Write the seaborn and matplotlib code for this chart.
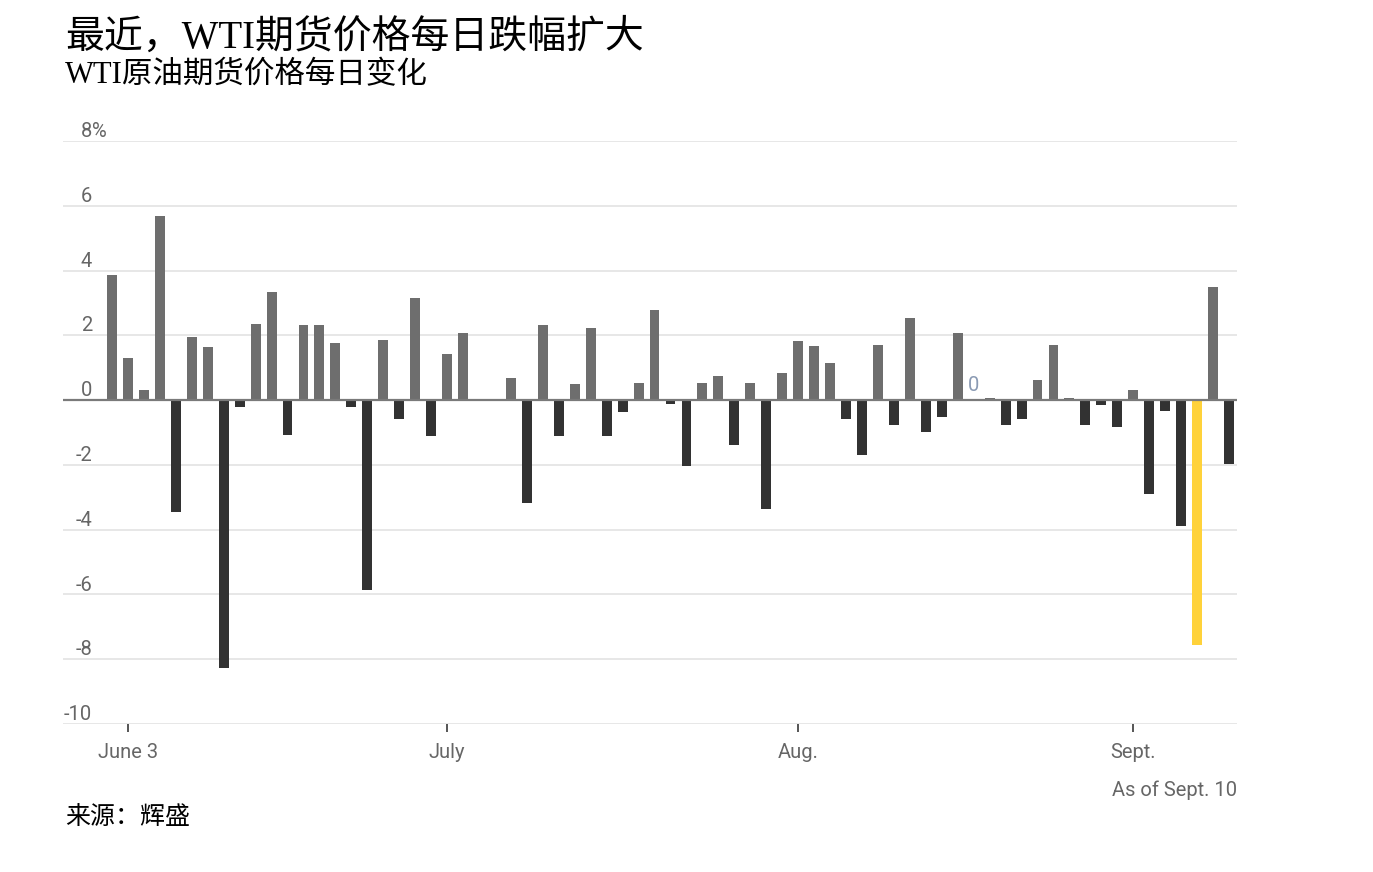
import matplotlib
matplotlib.use("Agg")
import matplotlib.pyplot as plt
import matplotlib.transforms as mtransforms
import seaborn as sns
import pandas as pd
import numpy as np

# ---------------- data ----------------
changes = [
    3.85, 1.30, 0.31, 5.69, -3.44, 1.96, 1.65, -8.28, -0.22, 2.36,
    3.33, -1.09, 2.31, 2.31, 1.76, -0.22, -5.87, 1.85, -0.59, 3.14,
    -1.12, 1.41, 2.07, -0.04, 0.0, 0.69, -3.19, 2.33, -1.12, 0.49,
    2.22, -1.12, -0.37, 0.54, 2.79, -0.11, -2.03, 0.54, 0.74, -1.38,
    0.54, -3.37, 0.85, 1.82, 1.66, 1.14, -0.58, -1.71, 1.71, -0.78,
    2.54, -0.99, -0.52, 2.07, 0.0, 0.06, -0.78, -0.58, 0.63, 1.71,
    0.06, -0.78, -0.16, -0.84, 0.32, -2.90, -0.33, -3.88, -7.57, 3.49,
    -1.96,
]
highlight_day = 68           # the big drop shown in yellow
zero_label_day = 54          # flat day annotated with "0"
month_labels = ["June 3", "July", "Aug.", "Sept."]
month_days = [1, 21, 43, 64]
y_ticks = [8, 6, 4, 2, 0, -2, -4, -6, -8, -10]

title = "最近，WTI期货价格每日跌幅扩大"
subtitle = "WTI原油期货价格每日变化"
source = "来源：辉盛"
note = "As of Sept. 10"

# ---------------- styling ----------------
sns.set_theme(style="white")
plt.rcParams["font.family"] = ["Roboto", "DejaVu Sans"]

C_POS = "#6e6e6e"
C_NEG = "#323232"
C_HI = "#FFD23A"
C_TICK = "#666666"

df = pd.DataFrame({"day": np.arange(len(changes)), "change": changes})
df["kind"] = np.where(df["change"] >= 0, "pos", "neg")
df.loc[highlight_day, "kind"] = "hi"

fig = plt.figure(figsize=(13.73, 8.72), dpi=100)
ax = fig.add_axes([63 / 1373, (872 - 724) / 872, (1237 - 63) / 1373, (724 - 141) / 872])

sns.barplot(data=df, x="day", y="change", hue="kind",
            palette={"pos": C_POS, "neg": C_NEG, "hi": C_HI}, saturation=1,
            native_scale=True, dodge=False, width=0.62, legend=False,
            edgecolor=None, linewidth=0, ax=ax, zorder=3)

ax.set_xlim(-3.07, 70.5)
ax.set_ylim(-10, 8)

# gridlines
for t in y_ticks:
    ax.axhline(t, color="#e5e5e5", lw=1.3, zorder=1)
ax.axhline(0, color="#7a7a7a", lw=1.6, zorder=4)

for s in ax.spines.values():
    s.set_visible(False)
ax.set_yticks([])
ax.set_ylabel("")
ax.set_xlabel("")

# y labels above gridlines
trans = mtransforms.blended_transform_factory(ax.transAxes, ax.transData)
xlab = (92 - 63) / 1174
for t in y_ticks:
    ax.text(xlab, t + 0.12, f"{t}", transform=trans, ha="right", va="baseline",
            fontsize=14.5, color=C_TICK, clip_on=False)
ax.text(xlab, 8 + 0.12, "%", transform=trans, ha="left", va="baseline",
        fontsize=14.5, color=C_TICK, clip_on=False)

# x ticks
ax.set_xticks(month_days)
ax.set_xticklabels(month_labels, fontsize=14.5, color=C_TICK)
ax.tick_params(axis="x", direction="out", length=6, width=1.4, color="#555555",
               pad=8, bottom=True)

# zero annotation
ax.text(zero_label_day, 0.15, "0", ha="center", va="bottom", fontsize=14.5,
        color="#8a9ab3", zorder=5)

# texts
serif_cjk = ["Liberation Serif", "Noto Sans CJK SC"]
fig.text(65 / 1373, 1 - 38 / 872, title, fontsize=28, va="center", ha="left",
         family=serif_cjk, color="black")
fig.text(65 / 1373, 1 - 76 / 872, subtitle, fontsize=22, va="center", ha="left",
         family=serif_cjk, color="black")
fig.text(1237 / 1373, 1 - 790 / 872, note, fontsize=14.5, va="center", ha="right",
         color=C_TICK)
fig.text(65 / 1373, 1 - 817 / 872, source, fontsize=18, va="center", ha="left",
         family=["Noto Sans CJK SC", "DejaVu Sans"], color="black")

fig.savefig("out.png", dpi=100, facecolor="white")
